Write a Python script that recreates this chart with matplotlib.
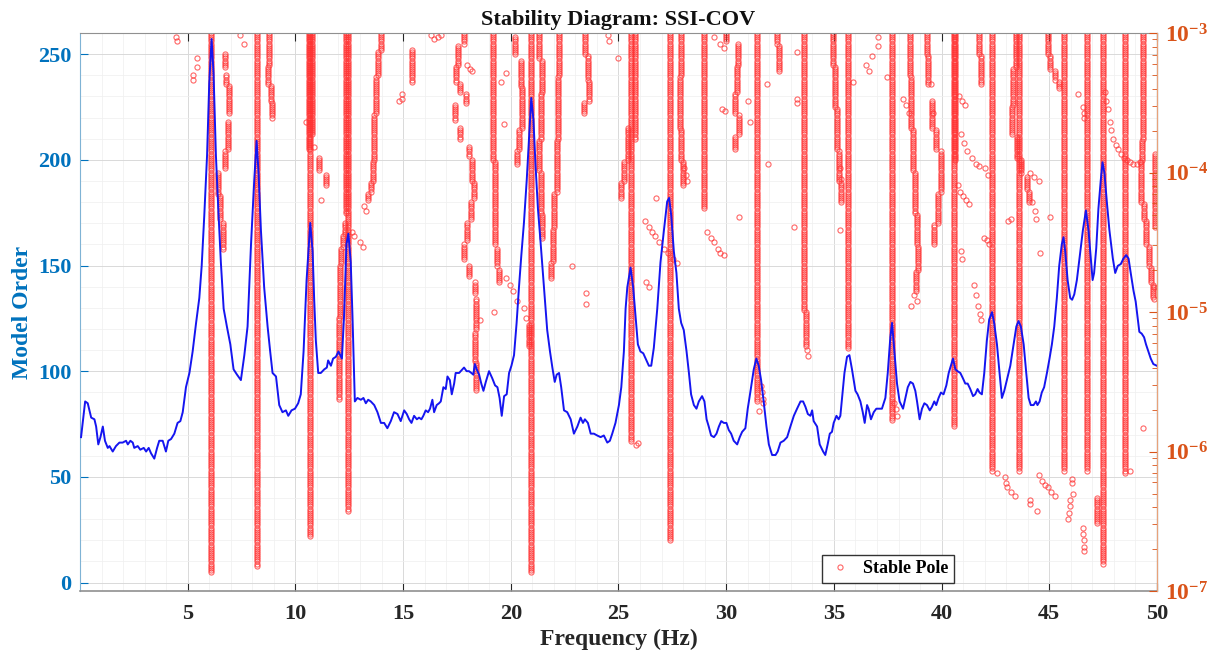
import numpy as np
import matplotlib
matplotlib.use("Agg")
import matplotlib.pyplot as plt
from matplotlib.ticker import MultipleLocator, FuncFormatter, NullFormatter, LogLocator

# spectrum drawn over the stability diagram (frequency in Hz, PSD in dB)
psd_freq = [0.05, 0.24, 0.36, 0.52, 0.67, 0.75, 0.85, 0.95, 1.06, 1.16, 1.29, 1.37, 1.52, 1.67, 1.83, 1.98,
            2.14, 2.22, 2.34, 2.45, 2.52, 2.68, 2.80, 2.96, 3.07, 3.19, 3.30, 3.45, 3.58, 3.68, 3.84, 3.99,
            4.10, 4.23, 4.38, 4.53, 4.66, 4.77, 4.92, 5.08, 5.23, 5.39, 5.54, 5.65, 5.77, 5.90, 6.00, 6.11,
            6.20, 6.31, 6.42, 6.54, 6.67, 6.82, 6.98, 7.13, 7.29, 7.47, 7.63, 7.78, 7.94, 8.09, 8.20, 8.29,
            8.40, 8.55, 8.71, 8.83, 8.94, 9.10, 9.25, 9.40, 9.56, 9.67, 9.82, 9.98, 10.13, 10.25, 10.38, 10.52,
            10.69, 10.80, 10.87, 10.95, 11.06, 11.18, 11.34, 11.46, 11.52, 11.65, 11.75, 11.88, 12.00, 12.16,
            12.26, 12.37, 12.46, 12.57, 12.65, 12.76, 12.88, 13.04, 13.16, 13.27, 13.38, 13.50, 13.66, 13.81,
            13.97, 14.12, 14.27, 14.43, 14.58, 14.74, 14.89, 15.05, 15.17, 15.28, 15.39, 15.51, 15.64, 15.74,
            15.85, 15.94, 16.05, 16.16, 16.25, 16.36, 16.44, 16.56, 16.67, 16.75, 16.87, 16.98, 17.06, 17.17,
            17.26, 17.37, 17.44, 17.60, 17.75, 17.83, 17.95, 18.06, 18.17, 18.26, 18.33, 18.42, 18.53, 18.63,
            18.73, 18.84, 18.99, 19.14, 19.27, 19.38, 19.48, 19.58, 19.69, 19.81, 19.92, 20.03, 20.15, 20.27,
            20.38, 20.49, 20.61, 20.74, 20.85, 20.95, 21.05, 21.15, 21.26, 21.39, 21.54, 21.69, 21.82, 21.93,
            22.04, 22.13, 22.24, 22.34, 22.47, 22.62, 22.78, 22.93, 23.09, 23.24, 23.35, 23.44, 23.58, 23.71,
            23.86, 24.01, 24.17, 24.32, 24.48, 24.60, 24.71, 24.86, 25.02, 25.13, 25.25, 25.33, 25.41, 25.56,
            25.68, 25.79, 25.90, 26.02, 26.15, 26.26, 26.41, 26.52, 26.64, 26.80, 26.95, 27.11, 27.26, 27.35,
            27.45, 27.57, 27.69, 27.80, 27.91, 28.03, 28.16, 28.27, 28.37, 28.50, 28.62, 28.73, 28.88, 28.99,
            29.09, 29.19, 29.30, 29.43, 29.55, 29.66, 29.77, 29.89, 30.01, 30.12, 30.23, 30.35, 30.51, 30.63,
            30.74, 30.89, 31.00, 31.13, 31.28, 31.40, 31.51, 31.62, 31.74, 31.87, 31.98, 32.13, 32.29, 32.39,
            32.52, 32.67, 32.83, 32.98, 33.14, 33.29, 33.45, 33.57, 33.68, 33.79, 33.91, 33.99, 34.06, 34.22,
            34.34, 34.50, 34.60, 34.71, 34.81, 34.91, 34.99, 35.12, 35.22, 35.30, 35.38, 35.49, 35.61, 35.72,
            35.84, 36.00, 36.10, 36.23, 36.34, 36.43, 36.54, 36.61, 36.72, 36.85, 36.97, 37.08, 37.23, 37.39,
            37.50, 37.62, 37.70, 37.81, 37.93, 38.05, 38.21, 38.32, 38.43, 38.55, 38.67, 38.78, 38.86, 38.98,
            39.09, 39.20, 39.32, 39.45, 39.55, 39.66, 39.75, 39.86, 39.97, 40.09, 40.22, 40.33, 40.43, 40.53,
            40.64, 40.74, 40.87, 40.99, 41.10, 41.21, 41.33, 41.46, 41.56, 41.67, 41.76, 41.87, 41.98, 42.10,
            42.21, 42.34, 42.44, 42.57, 42.69, 42.80, 42.91, 43.03, 43.19, 43.34, 43.47, 43.57, 43.68, 43.81,
            43.93, 44.04, 44.14, 44.27, 44.38, 44.45, 44.55, 44.65, 44.76, 44.89, 45.01, 45.12, 45.23, 45.35,
            45.46, 45.58, 45.66, 45.74, 45.85, 45.97, 46.06, 46.16, 46.28, 46.40, 46.56, 46.70, 46.82, 46.90,
            47.01, 47.08, 47.18, 47.28, 47.39, 47.47, 47.56, 47.67, 47.79, 47.95, 48.06, 48.18, 48.32, 48.44,
            48.57, 48.68, 48.78, 48.91, 49.01, 49.11, 49.18, 49.29, 49.40, 49.49, 49.60, 49.71, 49.83, 49.99]
psd_db = [-58.97, -56.41, -56.54, -57.57, -57.69, -58.21, -59.49, -58.97, -58.21, -59.23, -59.74, -59.61,
          -60.00, -59.61, -59.36, -59.36, -59.23, -59.49, -59.23, -59.36, -59.74, -59.61, -59.87, -59.74,
          -60.00, -59.74, -60.13, -60.51, -59.74, -59.23, -59.23, -60.00, -59.23, -59.10, -58.72, -57.95,
          -57.82, -57.18, -55.39, -54.37, -52.83, -50.78, -48.99, -46.69, -43.10, -38.75, -33.63, -30.43,
          -32.86, -38.75, -42.59, -46.43, -49.76, -51.04, -52.32, -54.11, -54.49, -54.88, -53.09, -51.04,
          -45.15, -40.54, -37.73, -40.03, -44.13, -48.22, -51.04, -52.83, -54.37, -54.62, -56.67, -57.18,
          -57.05, -57.44, -57.05, -56.93, -56.54, -55.90, -52.83, -47.71, -43.61, -45.66, -48.99, -52.06,
          -54.37, -54.37, -54.11, -53.98, -53.47, -53.85, -53.34, -53.21, -52.83, -53.34, -50.27, -45.15,
          -44.38, -46.43, -50.27, -56.41, -56.16, -56.29, -56.16, -56.54, -56.29, -56.41, -56.67, -57.18,
          -57.95, -57.95, -58.33, -57.82, -57.18, -57.31, -57.82, -57.05, -57.31, -57.69, -57.95, -57.44,
          -57.69, -57.57, -57.69, -57.44, -57.05, -57.18, -56.93, -56.29, -57.18, -56.67, -56.54, -56.41,
          -55.39, -55.52, -54.62, -54.88, -55.90, -55.13, -54.37, -54.37, -54.11, -53.98, -54.24, -54.24,
          -54.37, -54.49, -53.73, -54.11, -54.49, -55.13, -55.65, -55.01, -54.24, -54.75, -55.26, -55.39,
          -56.16, -57.44, -56.03, -55.90, -54.37, -53.85, -53.09, -50.78, -48.22, -45.92, -43.61, -40.54,
          -37.47, -34.65, -36.19, -39.52, -42.59, -45.15, -48.22, -51.29, -52.83, -53.98, -55.01, -54.49,
          -54.37, -55.39, -57.05, -57.18, -57.69, -58.72, -58.21, -57.57, -57.95, -57.69, -57.95, -58.72,
          -58.72, -58.85, -58.97, -58.85, -59.36, -59.23, -58.72, -57.95, -56.67, -55.39, -52.83, -49.76,
          -48.22, -46.81, -48.22, -50.27, -52.32, -52.83, -52.96, -53.34, -53.85, -53.85, -52.57, -49.76,
          -46.43, -44.13, -42.08, -41.82, -43.10, -45.66, -47.20, -49.76, -50.78, -51.29, -52.83, -54.37,
          -55.90, -56.67, -56.93, -56.41, -56.03, -56.41, -57.69, -58.21, -58.85, -58.97, -58.72, -58.21,
          -57.82, -57.95, -57.95, -58.46, -58.72, -59.23, -59.49, -58.97, -58.59, -58.33, -56.93, -55.65,
          -54.11, -53.34, -53.85, -54.88, -56.41, -58.21, -59.49, -60.25, -60.25, -60.00, -59.36, -59.23,
          -58.97, -58.21, -57.44, -56.93, -56.41, -56.41, -56.80, -57.31, -57.44, -57.05, -57.82, -58.21,
          -59.49, -60.00, -60.25, -59.49, -58.72, -58.59, -57.95, -57.44, -57.69, -57.44, -56.16, -54.37,
          -53.21, -53.09, -54.11, -55.65, -55.90, -56.41, -57.18, -57.95, -56.67, -56.93, -57.69, -57.18,
          -56.93, -56.93, -56.93, -56.16, -54.37, -51.81, -50.78, -52.83, -55.13, -56.41, -56.93, -56.16,
          -55.39, -55.01, -55.13, -55.65, -56.41, -57.69, -56.93, -56.54, -56.67, -57.05, -56.80, -56.41,
          -56.67, -56.16, -55.77, -55.90, -55.26, -54.37, -53.85, -53.34, -54.11, -54.24, -54.37, -54.75,
          -55.13, -55.13, -55.52, -56.03, -55.90, -55.52, -55.77, -55.90, -54.37, -52.06, -50.53, -50.01,
          -50.78, -52.32, -54.37, -56.16, -55.65, -54.88, -53.85, -52.32, -51.04, -50.65, -51.04, -52.32,
          -54.37, -56.16, -56.67, -56.67, -56.41, -56.67, -56.41, -55.77, -55.39, -54.37, -53.34, -52.32,
          -51.04, -48.99, -46.69, -45.15, -44.64, -45.66, -47.71, -48.99, -49.12, -48.73, -47.71, -46.17,
          -44.13, -42.72, -44.13, -45.66, -47.71, -47.20, -45.41, -42.59, -40.54, -39.26, -40.03, -42.08,
          -44.13, -46.17, -47.20, -46.69, -46.56, -46.17, -45.92, -46.17, -47.20, -48.48, -49.25, -50.53,
          -51.42, -51.55, -51.81, -52.32, -52.83, -53.34, -53.73, -53.85]

# stable poles that repeat over a range of model orders: frequency, first order, last order
col_freq = [6.10, 8.21, 10.70, 10.64, 10.78, 12.43, 12.37, 12.02, 12.06, 12.12, 12.22, 12.32, 20.95,
            25.58, 25.78, 27.38, 28.96, 31.42, 33.62, 35.64, 37.70, 40.56, 40.62, 42.35, 43.60, 45.66,
            46.74, 47.48, 47.22, 48.52, 49.37,
            6.72, 6.80, 6.92, 6.86, 6.74, 6.42, 6.52, 6.62, 8.78, 8.72, 8.86, 8.90, 11.10, 11.41,
            13.97, 13.84, 13.72, 13.66, 13.60, 13.50, 13.38, 15.40,
            17.83, 17.55, 17.45, 17.65, 17.90, 17.40, 17.65, 18.05, 18.20, 18.28, 18.14, 17.98, 17.85,
            18.06, 18.36, 18.40, 18.33, 18.38,
            19.18, 19.28, 19.25, 19.38, 19.45, 20.18, 20.46, 20.52, 20.40, 20.30, 20.84,
            21.31, 21.46, 21.40, 21.32, 21.42, 21.47, 22.24, 22.19, 22.13, 22.02, 21.94, 21.86,
            23.45, 23.58, 23.62, 23.42, 25.45, 25.25, 25.12, 27.92, 27.84, 27.90, 27.98,
            30.00, 30.55, 30.50, 30.43, 30.60, 30.40, 32.36, 32.45, 33.70,
            34.98, 35.05, 35.15, 35.25, 35.32,
            38.55, 38.60, 38.68, 38.75, 38.85, 38.90, 38.80, 39.30, 39.38,
            39.55, 39.75, 39.95, 39.85, 39.65, 41.72, 41.82,
            43.45, 43.32, 43.28, 43.50, 43.68, 43.95, 44.05, 44.95, 45.05, 45.25, 45.45,
            49.30, 49.25, 49.40, 49.50, 49.62, 49.72, 49.80, 49.93]
col_lo = [5, 8, 22, 205, 212, 34, 175, 87, 126, 151, 159, 165, 5,
          67, 210, 20, 177, 86, 129, 111, 77, 74, 200, 53, 53, 53,
          53, 9, 28, 52, 210,
          244, 236, 222, 205, 196, 184, 172, 158, 245, 236, 228, 220, 195, 188,
          252, 240, 222, 200, 190, 185, 181, 237,
          255, 245, 237, 232, 227, 219, 210, 202, 190, 182, 172, 162, 153,
          145, 137, 120, 105, 91,
          200, 170, 160, 150, 142, 250, 235, 215, 205, 198, 112,
          248, 232, 210, 195, 175, 163, 240, 210, 185, 168, 152, 144,
          250, 238, 228, 222, 200, 190, 182, 240, 215, 200, 188,
          256, 245, 232, 222, 212, 205, 255, 242, 112,
          245, 225, 205, 190, 180,
          240, 215, 195, 175, 160, 148, 138, 250, 236,
          215, 205, 185, 170, 160, 250, 236,
          244, 226, 212, 201, 194, 186, 180, 250, 243, 238, 234,
          200, 180, 172, 160, 150, 142, 135, 168]
col_hi = [260, 260, 260, 260, 260, 260, 260, 125, 150, 158, 164, 170, 260,
          260, 260, 260, 260, 260, 260, 260, 260, 260, 260, 260, 260, 260,
          260, 260, 40, 260, 260,
          250, 240, 235, 218, 204, 194, 183, 170, 260, 244, 235, 227, 201, 193,
          260, 251, 239, 221, 199, 189, 184, 252,
          260, 254, 244, 236, 231, 226, 215, 206, 200, 189, 180, 170, 160,
          150, 142, 134, 118, 104,
          260, 199, 169, 158, 148, 258, 247, 234, 214, 204, 122,
          260, 247, 231, 209, 194, 174, 260, 239, 209, 184, 167, 151,
          260, 249, 237, 227, 215, 199, 189, 260, 239, 214, 199,
          260, 255, 244, 231, 221, 211, 260, 254, 128,
          260, 244, 224, 204, 189,
          260, 239, 214, 194, 174, 159, 147, 260, 249,
          228, 214, 204, 184, 169, 260, 249,
          260, 243, 225, 211, 200, 192, 185, 260, 249, 242, 237,
          209, 199, 179, 171, 159, 149, 141, 203]

# scattered single poles: frequency and model order
iso_freq = [4.46, 4.50, 5.24, 5.26, 5.43, 5.45, 7.44, 7.63, 10.49, 10.87, 11.21,
            12.62, 12.70, 13.00, 13.14, 13.19, 13.28, 14.83, 14.97, 14.95, 16.30, 16.45, 16.60, 16.75,
            17.95, 18.10, 18.20, 19.53, 19.77, 19.69, 19.76, 19.98, 20.10, 20.30, 19.22, 18.55,
            20.60, 20.70, 22.86, 23.47, 23.50, 24.56, 24.50, 25.00, 25.79, 25.92,
            26.25, 26.40, 26.55, 26.70, 26.90, 27.10, 27.30, 27.55, 27.70, 26.72, 26.30, 26.41,
            28.05, 28.12, 28.20, 29.12, 29.30, 29.43, 29.60, 29.73, 29.89,
            29.45, 29.70, 29.90, 29.80, 29.95, 31.00, 31.10,
            31.60, 31.65, 31.70, 31.72, 31.50, 31.90, 31.95, 30.58, 33.14, 33.30, 33.30, 33.28,
            33.76, 33.80, 35.30, 35.32, 35.30, 35.90, 36.50, 36.65, 36.77, 37.06, 37.06, 37.47,
            37.80, 37.88, 37.93, 38.20, 38.35, 38.50, 38.70, 38.88, 38.60, 39.50, 39.62,
            40.80, 40.95, 41.10, 40.90, 41.05, 41.20, 41.40, 41.60, 41.75, 42.00, 42.15,
            40.75, 40.85, 41.00, 41.15, 41.25, 40.90, 40.95,
            41.50, 41.60, 41.70, 41.80, 41.85, 41.95, 42.10, 42.20,
            43.10, 43.20, 44.10, 44.30, 44.50, 44.20, 44.35, 44.40, 44.58, 45.04,
            46.35, 46.57, 46.60, 46.62,
            47.60, 47.65, 47.72, 47.80, 47.88, 47.98, 48.10, 48.20, 48.32, 48.45, 48.60, 48.75, 48.90,
            49.05, 49.20, 49.85, 49.85, 49.37,
            42.55, 42.95, 43.00, 43.05, 43.20, 43.40, 44.10, 44.12, 44.44,
            44.50, 44.66, 44.80, 44.95, 45.10, 45.28,
            46.05, 46.05, 46.10, 45.98, 45.95, 45.90, 45.88,
            46.55, 46.57, 46.60, 46.62, 46.60, 48.75]
iso_order = [258, 256, 240, 238, 248, 244, 259, 255, 218, 206, 181,
             166, 164, 161, 159, 178, 176, 228, 229, 231, 259, 257, 258, 259,
             245, 243, 242, 237, 241, 217, 144, 141, 138, 133, 128, 124,
             130, 125, 150, 137, 132, 256, 259, 248, 65, 66,
             171, 168, 166, 164, 161, 158, 156, 153, 151, 182, 142, 140,
             196, 193, 190, 166, 163, 161, 158, 156, 155,
             258, 255, 253, 224, 223, 228, 218,
             93, 90, 87, 85, 81, 236, 198, 173, 168, 251, 229, 227,
             110, 107, 196, 191, 167, 237, 245, 242, 249, 258, 254, 239,
             85, 82, 79, 229, 226, 222, 136, 133, 131, 236, 222,
             230, 228, 226, 212, 208, 204, 201, 198, 197, 196, 193,
             188, 185, 183, 181, 179, 157, 153,
             141, 136, 131, 127, 124, 163, 162, 160,
             171, 172, 194, 192, 190, 180, 176, 172, 156, 173,
             231, 225, 222, 220,
             232, 228, 224, 218, 214, 210, 207, 205, 203, 201, 200, 199, 198,
             198, 199, 134, 140, 73,
             52, 50, 47, 45, 43, 41, 39, 37, 34,
             51, 48, 46, 45, 43, 41,
             49, 47, 42, 39, 36, 33, 30,
             26, 23, 20, 17, 15, 53]

LEFT_COLOR = '#0072BD'
RIGHT_COLOR = '#D95319'


def pole_points():
    """
    Expands the pole columns to one point per model order
    :return: frequencies and model orders of all stable poles
    """
    freqs, orders = [], []
    for f, lo, hi in zip(col_freq, col_lo, col_hi):
        o = np.arange(lo, hi + 1)
        freqs.append(np.full(len(o), f))
        orders.append(o)
    freqs.append(np.array(iso_freq))
    orders.append(np.array(iso_order))
    return np.concatenate(freqs), np.concatenate(orders)


def plot_stability(filename):
    plt.rcParams['font.family'] = ['Liberation Serif', 'DejaVu Serif']
    plt.rcParams['font.weight'] = 'bold'
    plt.rcParams['mathtext.fontset'] = 'custom'
    plt.rcParams['mathtext.rm'] = 'Liberation Serif:bold'
    plt.rcParams['mathtext.bf'] = 'Liberation Serif:bold'
    plt.rcParams['mathtext.it'] = 'Liberation Serif:bold:italic'

    fig = plt.figure(figsize=(12.1, 6.58), dpi=100)
    ax = fig.add_axes([0.0661, 0.1018, 0.8901, 0.848])

    pf, po = pole_points()
    ax.plot(pf, po, linestyle='none', marker='o', markersize=3.7, markerfacecolor='none',
            markeredgecolor=(1.0, 0.2, 0.2, 0.75), markeredgewidth=0.8, label='Stable Pole')

    ax.set_xlim(0, 50)
    ax.set_ylim(-4, 260)
    ax.set_xticks(range(5, 51, 5))
    ax.set_yticks(range(0, 251, 50))
    ax.xaxis.set_minor_locator(MultipleLocator(1))
    ax.yaxis.set_minor_locator(MultipleLocator(10))
    ax.grid(which='major', color='#d9d9d9', linewidth=0.7)
    ax.grid(which='minor', color='#efefef', linewidth=0.5)
    ax.set_axisbelow(True)

    ax.tick_params(axis='x', which='major', direction='in', length=6, top=True, pad=9,
                   labelsize=16, colors='#262626', width=0.8)
    ax.tick_params(axis='y', which='major', direction='in', length=6, pad=6,
                   labelsize=16, colors=LEFT_COLOR, width=0.8)
    ax.tick_params(which='minor', length=0)
    ax.spines['left'].set_color('#7fb3d5')
    ax.spines['bottom'].set_color('#909090')
    ax.spines['top'].set_color('#909090')
    ax.spines['bottom'].set_linewidth(1.2)

    ax.set_xlabel('Frequency (Hz)', fontsize=17, fontweight='bold', color='#262626', labelpad=4)
    ax.set_ylabel('Model Order', fontsize=17, fontweight='bold', color=LEFT_COLOR, labelpad=4)
    ax.set_title('Stability Diagram: SSI-COV', fontsize=16, fontweight='bold', color='#111111', pad=6)

    ax.legend(loc='center', bbox_to_anchor=(0.75, 0.04), fontsize=13, frameon=True,
              fancybox=False, edgecolor='#333333', framealpha=1, handlelength=1.4,
              handletextpad=0.6, borderpad=0.3, markerscale=1.0)

    ax2 = ax.twinx()
    ax2.plot(psd_freq, 10 ** (np.array(psd_db) / 10), color='#1515f0', linewidth=1.4)
    ax2.set_yscale('log')
    ax2.set_ylim(1e-7, 1e-3)
    ax2.yaxis.set_major_locator(LogLocator(base=10))
    ax2.yaxis.set_minor_locator(LogLocator(base=10, subs=np.arange(2, 10)))
    ax2.yaxis.set_major_formatter(FuncFormatter(lambda v, p: r'$\mathbf{10^{%d}}$' % round(np.log10(v))))
    ax2.yaxis.set_minor_formatter(NullFormatter())
    ax2.tick_params(axis='y', which='major', direction='in', length=6, pad=6,
                    labelsize=17, colors=RIGHT_COLOR, width=0.8)
    ax2.tick_params(axis='y', which='minor', direction='in', length=3.5, colors=RIGHT_COLOR, width=0.6)
    ax2.spines['right'].set_color('#e8a27a')
    ax2.spines['left'].set_visible(False)
    ax2.spines['top'].set_visible(False)
    ax2.spines['bottom'].set_visible(False)

    fig.savefig(filename, dpi=100)


if __name__ == "__main__":
    plot_stability('out.png')
